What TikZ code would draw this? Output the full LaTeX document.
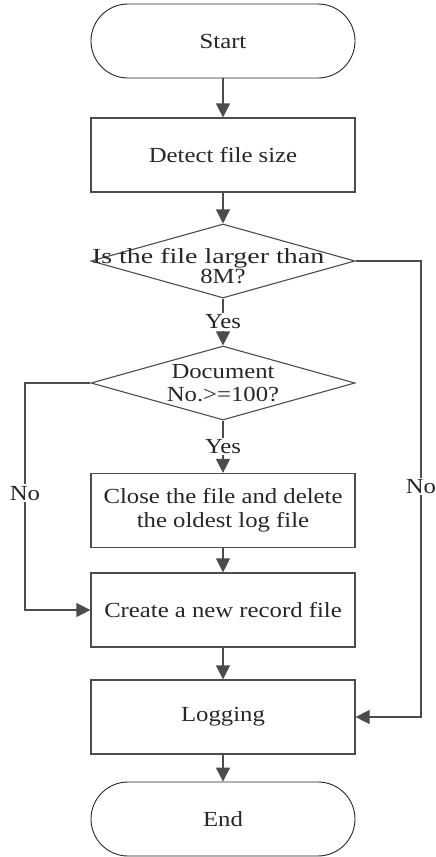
\documentclass[tikz,border=0pt]{standalone}
\usepackage{fontspec}
\usepackage{graphicx}
\setmainfont[FakeStretch=1.15]{Liberation Serif}
\usetikzlibrary{arrows.meta,shapes.geometric}
\begin{document}
\begin{tikzpicture}[x=1pt,y=-1pt,
 every node/.style={font=\fontsize{21.5}{24}\selectfont, text=black!85},
 box/.style={draw=black!70,line width=1.2pt,minimum width=264pt,minimum height=74pt,inner sep=0pt,align=center},
 term/.style={box,rounded corners=37pt,line width=0.9pt,draw=black!85},
 dia/.style={draw=black!70,line width=1.1pt,diamond,minimum width=264pt,minimum height=74pt,inner sep=0pt},
 conn/.style={draw=black!70,line width=1.2pt,-{Triangle[width=14pt,length=14pt]}},
 lab/.style={fill=white,inner sep=1.5pt}
]
\useasboundingbox (0,0) rectangle (436,857);
\node[term] (start) at (223,41) {Start};
\node[box] (detect) at (223,155) {Detect file size};
\node[dia] (d1) at (223,261) {};
\node[align=center,inner sep=0pt,font=\fontsize{21.5}{17}\selectfont] (d1t) at (223,266.5)
  {\makebox[262pt][l]{\scalebox{1.13}[1]{Is the file larger than}}\\8M?};
\node[dia] (d2) at (223,383) {};
\node[align=center,font=\fontsize{21.5}{23}\selectfont] (d2t) at (223,383) {Document\\No.>=100?};
\node[box] (close) at (223,510.5) {Close the file and delete\\the oldest log file};
\node[box] (create) at (223,610) {Create a new record file};
\node[box] (log) at (223,717) {Logging};
\node[term] (end) at (223,819) {End};
\coordinate (l1) at (25,383);
\coordinate (l2) at (25,610);
\coordinate (r1) at (421,261);
\coordinate (r2) at (421,717);

\draw[conn] (start) -- (detect);
\draw[conn] (detect) -- (d1);
\draw[conn] (d1) -- node[lab] (yes1) {Yes} (d2);
\draw[conn] (d2) -- node[lab] (yes2) {Yes} (close);
\draw[conn] (close) -- (create);
\draw[conn] (create) -- (log);
\draw[conn] (log) -- (end);
\draw[conn] (d2.west) -- (l1) -- node[lab,pos=0.485] (no1) {No} (l2) -- (create.west);
\draw[conn] (d1.east) -- (r1) -- node[lab,pos=0.495] (no2) {No} (r2) -- (log.east);
\end{tikzpicture}
\end{document}
